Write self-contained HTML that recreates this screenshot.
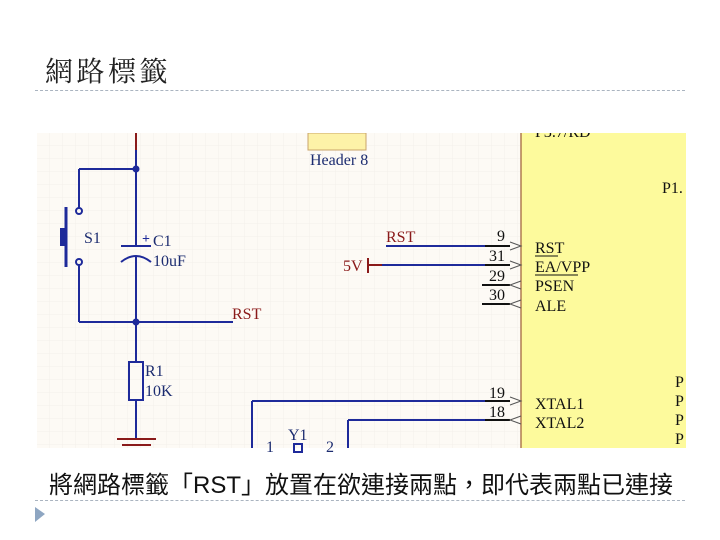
<!DOCTYPE html>
<html><head><meta charset="utf-8"><style>
body{margin:0;width:720px;height:540px;background:#fff;overflow:hidden;position:relative;font-family:"Liberation Serif","Noto Serif CJK SC",serif}
.t{position:absolute;left:45px;top:50px;font-size:28px;color:#222;font-family:"Liberation Serif","Noto Serif CJK SC",serif;letter-spacing:3.5px}
.d{position:absolute;left:35px;width:650px;border-top:1px dashed #aab4c0}
.b{position:absolute;left:49px;top:465px;font-size:24px;color:#111;font-family:"Liberation Sans","Noto Sans CJK TC",sans-serif;white-space:nowrap;letter-spacing:0px}
</style></head><body>
<div class="t">網路標籤</div>
<div class="d" style="top:90px"></div>
<svg style="position:absolute;left:0;top:0" width="720" height="540" font-family="Liberation Serif, serif">
<defs><pattern id="g" width="13" height="13" patternUnits="userSpaceOnUse" x="37" y="133"><path d="M13 0V13H0" fill="none" stroke="#f3f0ea" stroke-width="1"/></pattern></defs>
<rect x="37" y="133" width="649" height="315" fill="#fdfaf5"/>
<rect x="37" y="133" width="649" height="315" fill="url(#g)"/>
<rect x="521" y="133" width="165" height="315" fill="#fdfa9c"/>
<line x1="521" y1="133" x2="521" y2="448" stroke="#b07a50" stroke-width="1.5"/>
<rect x="308" y="133" width="58" height="17" fill="#fdf2a8" stroke="#c9a46a"/>
<text x="310" y="165" font-size="16" fill="#1c2c70">Header 8</text>
<g stroke="#1e2a9a" stroke-width="2" fill="none">
<line x1="136" y1="150" x2="136" y2="246"/>
<line x1="79" y1="169" x2="136" y2="169"/>
<line x1="79" y1="169" x2="79" y2="208"/>
<line x1="79" y1="265" x2="79" y2="322"/>
<line x1="79" y1="322" x2="233" y2="322"/>
<line x1="136" y1="256" x2="136" y2="362"/>
<line x1="136" y1="400" x2="136" y2="438"/>
<line x1="121" y1="246" x2="151" y2="246"/>
<path d="M121 262 Q136 250 151 262"/>
<rect x="129" y="362" width="14" height="38"/>
<circle cx="79" cy="211" r="3"/><circle cx="79" cy="262" r="3"/>
<line x1="386" y1="246" x2="485" y2="246"/>
<line x1="382" y1="265" x2="485" y2="265"/>
<line x1="252" y1="401" x2="485" y2="401"/>
<line x1="252" y1="401" x2="252" y2="448"/>
<line x1="348" y1="420" x2="485" y2="420"/>
<line x1="348" y1="420" x2="348" y2="448"/>
<rect x="294" y="444" width="8" height="8"/>
</g>
<line x1="66" y1="207" x2="66" y2="267" stroke="#1e2a9a" stroke-width="3"/>
<rect x="60" y="228" width="6" height="18" fill="#1e2a9a"/>
<circle cx="136" cy="169" r="3.5" fill="#1e2a9a"/><circle cx="136" cy="322" r="3.5" fill="#1e2a9a"/>
<line x1="136" y1="133" x2="136" y2="150" stroke="#8a1a1a" stroke-width="2"/>
<g stroke="#8a1a1a" stroke-width="2"><line x1="117" y1="439" x2="156" y2="439"/><line x1="122" y1="445" x2="151" y2="445"/>
<line x1="368" y1="258" x2="368" y2="273"/><line x1="368" y1="265" x2="382" y2="265"/></g>
<g stroke="#111" stroke-width="2"><line x1="485" y1="246" x2="510" y2="246"/><line x1="485" y1="265" x2="510" y2="265"/><line x1="482" y1="285" x2="510" y2="285"/><line x1="482" y1="304" x2="510" y2="304"/><line x1="485" y1="401" x2="510" y2="401"/><line x1="485" y1="420" x2="510" y2="420"/></g>
<g stroke="#555" fill="none" stroke-width="1"><path d="M510 242L521 246L510 250"/><path d="M510 261L521 265L510 269"/><path d="M521 281L510 285L521 289"/><path d="M521 300L510 304L521 308"/><path d="M510 397L521 401L510 405"/><path d="M521 416L510 420L521 424"/></g>
<g font-size="16" fill="#1c2c70"><text x="84" y="243">S1</text><text x="153" y="246">C1</text><text x="153" y="266">10uF</text><text x="145" y="376">R1</text><text x="145" y="396">10K</text><text x="288" y="440">Y1</text><text x="266" y="452">1</text><text x="326" y="452">2</text></g>
<text x="142" y="243" font-size="14" font-weight="bold" fill="#1e2a9a">+</text>
<g font-size="16" fill="#8a1a1a"><text x="232" y="319">RST</text><text x="386" y="242">RST</text><text x="343" y="271">5V</text></g>
<g font-size="16" fill="#111"><text x="497" y="241">9</text><text x="489" y="261">31</text><text x="489" y="281">29</text><text x="489" y="300">30</text><text x="489" y="398">19</text><text x="489" y="417">18</text>
<text x="535" y="253">RST</text><text x="535" y="272">EA/VPP</text><text x="535" y="291">PSEN</text><text x="535" y="311">ALE</text><text x="535" y="409">XTAL1</text><text x="535" y="428">XTAL2</text>
<text x="535" y="137">P3.7/RD</text><text x="662" y="193">P1.</text><text x="675" y="387">P</text><text x="675" y="406">P</text><text x="675" y="425">P</text><text x="675" y="444">P</text></g>
<line x1="535" y1="256" x2="558" y2="256" stroke="#111"/><line x1="535" y1="275" x2="578" y2="275" stroke="#111"/>
<rect x="0" y="120" width="720" height="13" fill="#fff"/>
<polygon points="35,507 45,514 35,522" fill="#8ea6c2"/>
</svg>
<div class="b">將網路標籤「RST」放置在欲連接兩點，即代表兩點已連接</div>
<div class="d" style="top:500px"></div>
</body></html>
